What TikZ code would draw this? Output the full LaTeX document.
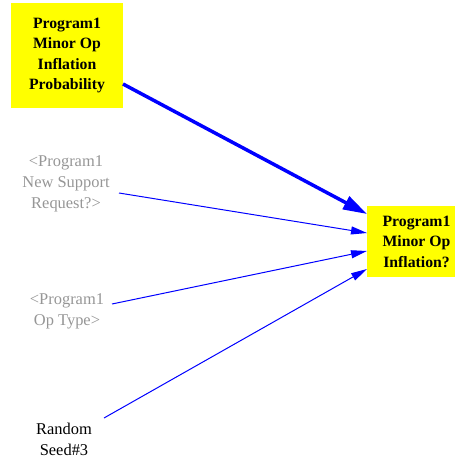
\documentclass[tikz,border=0pt]{standalone}
\usepackage{fontspec}
\setmainfont{Liberation Serif}
\usetikzlibrary{arrows.meta}
\definecolor{boxyellow}{RGB}{255,255,0}
\definecolor{linkblue}{RGB}{0,0,255}
\definecolor{ghost}{RGB}{150,150,150}
\begin{document}
\begin{tikzpicture}[x=1bp,y=-1bp,
  varbox/.style={fill=boxyellow, draw=none, inner sep=0pt, align=center,
    font=\fontsize{15.8}{20.5}\selectfont\bfseries},
  vartext/.style={inner sep=0pt, align=center,
    font=\fontsize{16.5}{21}\selectfont},
  ghosttext/.style={vartext, text=ghost},
  thicklink/.style={draw=linkblue, line width=3.5bp,
    -{Triangle[length=24bp,width=14bp]}},
  thinlink/.style={draw=linkblue, line width=1bp,
    -{Triangle[length=16bp,width=8bp]}}]
\useasboundingbox (0,0) rectangle (455,458);
\clip (0,0) rectangle (455,458);
% boxes
\node[varbox, minimum width=112bp, minimum height=105bp] (prob) at (67,55.5)
  {Program1\\Minor Op\\Inflation\\Probability};
\node[varbox, minimum width=99bp, minimum height=71bp] (infl) at (416.5,241.5)
  {Program1\\Minor Op\\Inflation?};
% plain variables
\node[ghosttext] (support) at (66,184) {<Program1\\New Support\\Request?>};
\node[ghosttext] (optype) at (67,311) {<Program1\\Op Type>};
\node[vartext] (seed) at (64,439) {Random\\Seed\#3};
% connector ends
\coordinate (s1) at (123,84);
\coordinate (s2) at (119,193);
\coordinate (s3) at (112,304);
\coordinate (s4) at (104,418);
\coordinate (e1) at (367,214);
\coordinate (e2) at (367,233);
\coordinate (e3) at (367,251);
\coordinate (e4) at (367,269);
% connectors
\draw[thicklink] (s1) -- (e1);
\draw[thinlink] (s2) -- (e2);
\draw[thinlink] (s3) -- (e3);
\draw[thinlink] (s4) -- (e4);
\end{tikzpicture}
\end{document}
